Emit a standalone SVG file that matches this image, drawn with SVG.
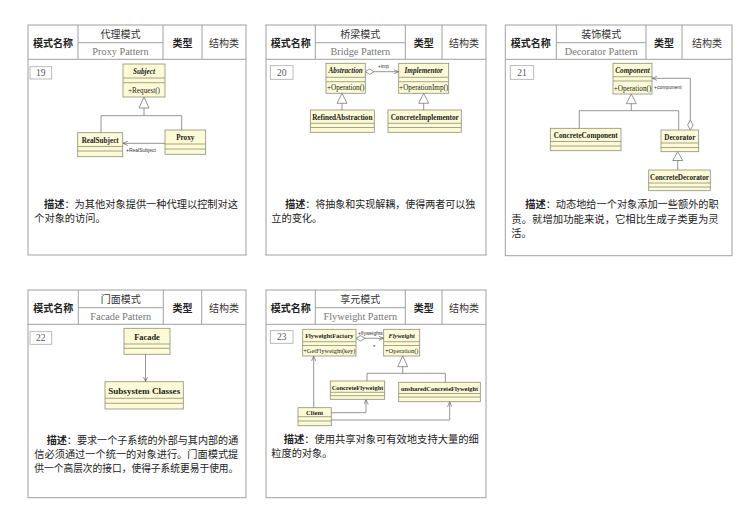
<svg xmlns="http://www.w3.org/2000/svg" width="751" height="526" viewBox="0 0 751 526">
<style>
.frame{fill:#fff;stroke:#a0a0a0;stroke-width:1}
.hl{stroke:#a0a0a0;stroke-width:1;fill:none}
.hb{font-family:"Noto Sans CJK SC","Noto Sans",sans-serif;font-size:10px;font-weight:bold;fill:#222;text-anchor:middle}
.hn{font-family:"Noto Sans CJK SC","Noto Sans",sans-serif;font-size:10px;fill:#333;text-anchor:middle}
.en{font-family:"Liberation Serif",serif;font-size:10.3px;fill:#777;text-anchor:middle}
.num{fill:#fff;stroke:#aaa;stroke-width:0.8}
.numt{font-family:"Liberation Serif",serif;font-size:9.5px;fill:#555;text-anchor:middle}
.cls{fill:#fcfbd6;stroke:#8e8e76;stroke-width:0.8}
.cl{stroke:#8e8e76;stroke-width:0.8}
.cn{font-family:"Liberation Serif",serif;font-size:7.2px;font-weight:bold;fill:#222;text-anchor:middle}
.ci{font-style:italic}
.co{font-family:"Liberation Serif",serif;font-size:7.2px;fill:#222;text-anchor:middle}
.lbl{font-family:"Liberation Sans",sans-serif;font-size:5px;fill:#333}
.desc{font-family:"Noto Sans CJK SC","Noto Sans",sans-serif;font-size:10.2px;fill:#222}
.b{font-weight:bold}
.ln{fill:none;stroke:#7a7a7a;stroke-width:0.8}
.tri{fill:#fff;stroke:#7a7a7a;stroke-width:0.8}
</style>
<defs>
<marker id="open" viewBox="0 0 8 8" refX="8" refY="4" markerWidth="5" markerHeight="5" markerUnits="userSpaceOnUse" orient="auto">
<path d="M0,0.5 L8,4 L0,7.5" fill="none" stroke="#666" stroke-width="1.1"/>
</marker>
</defs>
<rect width="751" height="526" fill="#fff"/>

<!-- Card 19 -->
<g id="card-proxy">
<rect class="frame" x="28" y="25" width="218" height="230"/>
<path class="hl" d="M28,59.3H246M78,25V59.3M163,25V59.3M202,25V59.3M78,42.7H163"/>
<text class="hb" x="53" y="46.5">模式名称</text>
<text class="hn" x="120.5" y="37.5">代理模式</text>
<text class="en" x="120.5" y="55">Proxy Pattern</text>
<text class="hb" x="182.5" y="46.5">类型</text>
<text class="hn" x="224" y="46.5">结构类</text>
<rect class="num" x="30" y="66.7" width="21.7" height="12.3"/>
<text class="numt" x="40.8" y="76">19</text>
<g id="subject"><rect class="cls" x="123" y="64" width="42" height="33"/><path class="cl" d="M123,78H165M123,82.7H165"/><text class="cn ci" x="144" y="74">Subject</text><text class="co" x="144" y="92.5">+Request()</text></g>
<g id="realsubject"><rect class="cls" x="77.7" y="132.7" width="45" height="24"/><path class="cl" d="M77.7,146.5H122.7M77.7,151H122.7"/><text class="cn" x="100.2" y="142.5">RealSubject</text></g>
<g id="proxy"><rect class="cls" x="165" y="130" width="40.7" height="24.3"/><path class="cl" d="M165,144H205.7M165,149H205.7"/><text class="cn" x="185.3" y="140">Proxy</text></g>
<text class="desc" x="44" y="207.7" textLength="194" lengthAdjust="spacingAndGlyphs"><tspan class="b">描述</tspan>：为其他对象提供一种代理以控制对这</text>
<text class="desc" x="34.3" y="222.4">个对象的访问。</text>
</g>

<!-- Card 20 -->
<g id="card-bridge">
<rect class="frame" x="266" y="25" width="220" height="230"/>
<path class="hl" d="M266,59.3H486M315.3,25V59.3M405.3,25V59.3M442,25V59.3M315.3,42.7H405.3"/>
<text class="hb" x="290.7" y="46.5">模式名称</text>
<text class="hn" x="360.3" y="37.5">桥梁模式</text>
<text class="en" x="360.3" y="55">Bridge Pattern</text>
<text class="hb" x="423.7" y="46.5">类型</text>
<text class="hn" x="464" y="46.5">结构类</text>
<rect class="num" x="270.3" y="65.7" width="22.7" height="13.6"/>
<text class="numt" x="281.7" y="75.8">20</text>
<g id="abstraction"><rect class="cls" x="326" y="63.3" width="39.3" height="30"/><path class="cl" d="M326,77.3H365.3M326,81.7H365.3"/><text class="cn ci" x="345.7" y="73.3">Abstraction</text><text class="co" x="345.7" y="90">+Operation()</text></g>
<g id="implementor"><rect class="cls" x="398.7" y="63.3" width="50" height="30"/><path class="cl" d="M398.7,77.3H448.7M398.7,81.7H448.7"/><text class="cn ci" x="423.7" y="73.3">Implementor</text><text class="co" x="423.7" y="90">+OperationImp()</text></g>
<g id="refined"><rect class="cls" x="310.3" y="110" width="64" height="22.3"/><path class="cl" d="M310.3,123.3H374.3M310.3,127.5H374.3"/><text class="cn" x="342.3" y="119.5">RefinedAbstraction</text></g>
<g id="concreteimpl"><rect class="cls" x="388" y="110" width="73.3" height="22.3"/><path class="cl" d="M388,123.3H461.3M388,127.5H461.3"/><text class="cn" x="424.7" y="119.5">ConcreteImplementor</text></g>
<text class="desc" x="285.3" y="207.7" textLength="190" lengthAdjust="spacingAndGlyphs"><tspan class="b">描述</tspan>：将抽象和实现解耦，使得两者可以独</text>
<text class="desc" x="271.3" y="222.4">立的变化。</text>
</g>

<!-- Card 21 -->
<g id="card-decorator">
<rect class="frame" x="505.3" y="25" width="226.7" height="230.7"/>
<path class="hl" d="M505.3,59.3H732M556.3,25V59.3M646,25V59.3M682,25V59.3M556.3,42.7H646"/>
<text class="hb" x="530.8" y="46.5">模式名称</text>
<text class="hn" x="601.2" y="37.5">装饰模式</text>
<text class="en" x="601.2" y="55">Decorator Pattern</text>
<text class="hb" x="664" y="46.5">类型</text>
<text class="hn" x="707" y="46.5">结构类</text>
<rect class="num" x="510.3" y="65.7" width="23.4" height="13.6"/>
<text class="numt" x="522" y="75.8">21</text>
<g id="component"><rect class="cls" x="613" y="63.3" width="39" height="30.7"/><path class="cl" d="M613,76.7H652M613,81H652"/><text class="cn ci" x="632.5" y="73">Component</text><text class="co" x="632.5" y="90.5">+Operation()</text></g>
<g id="concretecomponent"><rect class="cls" x="550.3" y="128.3" width="70.7" height="22.4"/><path class="cl" d="M550.3,141.5H621M550.3,146H621"/><text class="cn" x="585.7" y="138">ConcreteComponent</text></g>
<g id="decorator"><rect class="cls" x="661" y="130" width="37.7" height="21.7"/><path class="cl" d="M661,143H698.7M661,147.5H698.7"/><text class="cn" x="679.8" y="139.5">Decorator</text></g>
<g id="concretedecorator"><rect class="cls" x="648.7" y="170" width="61.6" height="20.7"/><path class="cl" d="M648.7,183H710.3M648.7,187H710.3"/><text class="cn" x="679.5" y="179.5">ConcreteDecorator</text></g>
<text class="desc" x="525.3" y="207.7" textLength="193.4" lengthAdjust="spacingAndGlyphs"><tspan class="b">描述</tspan>：动态地给一个对象添加一些额外的职</text>
<text class="desc" x="511.3" y="222.6" textLength="207.4" lengthAdjust="spacingAndGlyphs">责。就增加功能来说，它相比生成子类更为灵</text>
<text class="desc" x="511.3" y="237">活。</text>
</g>

<!-- Card 22 -->
<g id="card-facade">
<rect class="frame" x="28" y="290" width="218" height="207.7"/>
<path class="hl" d="M28,324.3H246M78.3,290V324.3M163.3,290V324.3M201.7,290V324.3M78.3,307.7H163.3"/>
<text class="hb" x="53.2" y="311.5">模式名称</text>
<text class="hn" x="120.8" y="302.5">门面模式</text>
<text class="en" x="120.8" y="320">Facade Pattern</text>
<text class="hb" x="182.5" y="311.5">类型</text>
<text class="hn" x="224" y="311.5">结构类</text>
<rect class="num" x="30" y="331.7" width="21.7" height="12.6"/>
<text class="numt" x="40.8" y="341.2">22</text>
<g id="facade"><rect class="cls" x="124" y="328.3" width="46" height="26"/><path class="cl" d="M124,344H170M124,348.3H170"/><text class="cn" x="147" y="339.5" style="font-size:8.4px">Facade</text></g>
<g id="subsystem"><rect class="cls" x="105" y="381.7" width="78.3" height="27.3"/><path class="cl" d="M105,398.3H183.3M105,403.3H183.3"/><text class="cn" x="144.2" y="393.5" style="font-size:9.1px">Subsystem Classes</text></g>
<text class="desc" x="46.7" y="443.7" textLength="191.6" lengthAdjust="spacingAndGlyphs"><tspan class="b">描述</tspan>：要求一个子系统的外部与其内部的通</text>
<text class="desc" x="34.3" y="457.8" textLength="204" lengthAdjust="spacingAndGlyphs">信必须通过一个统一的对象进行。门面模式提</text>
<text class="desc" x="34.3" y="472" textLength="204" lengthAdjust="spacingAndGlyphs">供一个高层次的接口，使得子系统更易于使用。</text>
</g>

<!-- Card 23 -->
<g id="card-flyweight">
<rect class="frame" x="266" y="290" width="220" height="207.7"/>
<path class="hl" d="M266,324.3H486M315.3,290V324.3M405.3,290V324.3M442,290V324.3M315.3,307.7H405.3"/>
<text class="hb" x="290.7" y="311.5">模式名称</text>
<text class="hn" x="360.3" y="302.5">享元模式</text>
<text class="en" x="360.3" y="320">Flyweight Pattern</text>
<text class="hb" x="423.7" y="311.5">类型</text>
<text class="hn" x="464" y="311.5">结构类</text>
<rect class="num" x="270.3" y="330.7" width="22.7" height="12.6"/>
<text class="numt" x="281.7" y="340.3">23</text>
<g id="flyweightfactory"><rect class="cls" x="302.7" y="329.3" width="53.3" height="26.7"/><path class="cl" d="M302.7,341.7H356M302.7,345.5H356"/><text class="cn" x="329.3" y="338" style="font-size:6.4px">FlyweightFactory</text><text class="co" x="329.3" y="353" style="font-size:6.4px">+GetFlyweight(key)</text></g>
<g id="flyweight"><rect class="cls" x="383.7" y="329.3" width="36" height="26.7"/><path class="cl" d="M383.7,341.7H419.7M383.7,345.5H419.7"/><text class="cn ci" x="401.7" y="338" style="font-size:6.4px">Flyweight</text><text class="co" x="401.7" y="353" style="font-size:6.4px">+Operation()</text></g>
<g id="concreteflyweight"><rect class="cls" x="330.3" y="381" width="54.4" height="18.3"/><path class="cl" d="M330.3,392.3H384.7M330.3,395.7H384.7"/><text class="cn" x="357.5" y="389.5" style="font-size:6.4px">ConcreteFlyweight</text></g>
<g id="unshared"><rect class="cls" x="398.7" y="382.3" width="81.6" height="19.4"/><path class="cl" d="M398.7,393.5H480.3M398.7,397H480.3"/><text class="cn" x="439.5" y="390.8" style="font-size:6.4px">unsharedConcreteFlyweight</text></g>
<g id="client"><rect class="cls" x="298" y="407.7" width="33.3" height="18"/><path class="cl" d="M298,416.7H331.3M298,421H331.3"/><text class="cn" x="314.7" y="414.8" style="font-size:6.6px">Client</text></g>
<text class="desc" x="283.7" y="443" textLength="195" lengthAdjust="spacingAndGlyphs"><tspan class="b">描述</tspan>：使用共享对象可有效地支持大量的细</text>
<text class="desc" x="271.3" y="457.2">粒度的对象。</text>
</g>

<g id="connectors">
<!-- proxy -->
<polygon class="tri" points="144,97 139,108 149,108"/>
<path class="ln" d="M144,108V115.7M101,115.7H181.7M101,115.7V132.7M181.7,115.7V130"/>
<path class="ln" d="M165,143.3H122.9" marker-end="url(#open)"/>
<text class="lbl" x="126" y="152">+RealSubject</text>
<!-- bridge -->
<polygon class="tri" points="365.3,71.7 369.7,69 374,71.7 369.7,74.4"/>
<path class="ln" d="M374,71.7H398.5" marker-end="url(#open)"/>
<text class="lbl" x="378" y="68">+imp</text>
<polygon class="tri" points="342,93.3 337,103.3 347,103.3"/>
<path class="ln" d="M342,103.3V110"/>
<polygon class="tri" points="423.7,93.3 418.7,103.3 428.7,103.3"/>
<path class="ln" d="M423.7,103.3V110"/>
<!-- decorator -->
<polygon class="tri" points="631.3,94 626.3,103.7 636.3,103.7"/>
<path class="ln" d="M631.3,103.7V110.7M579.3,110.7H678.7M579.3,110.7V128.3M678.7,110.7V130"/>
<polygon class="tri" points="690.3,130 687.6,125 690.3,120 693,125"/>
<path class="ln" d="M690.3,120V78.3H652.2" marker-end="url(#open)"/>
<text class="lbl" x="654" y="88.5">+component</text>
<polygon class="tri" points="677.7,151.7 672.7,160.5 682.7,160.5"/>
<path class="ln" d="M677.7,160.5V170"/>
<!-- facade -->
<path class="ln" d="M145.5,354.3V381.5" marker-end="url(#open)"/>
<!-- flyweight -->
<polygon class="tri" points="356,338.3 360.5,335.6 365,338.3 360.5,341"/>
<path class="ln" d="M365,338.3H383.5" marker-end="url(#open)"/>
<text class="lbl" x="358" y="335">+flyweights</text>
<text class="lbl" x="373" y="349" style="font-size:6px">*</text>
<polygon class="tri" points="402.7,356 397.7,366.7 407.7,366.7"/>
<path class="ln" d="M402.7,366.7V373.3M367,373.3H445.3M367,373.3V381M445.3,373.3V382.3"/>
<path class="ln" d="M313.7,407.7V356.2" marker-end="url(#open)"/>
<path class="ln" d="M331.3,412.7H366V399.5" marker-end="url(#open)"/>
<path class="ln" d="M331.3,420H449.7V401.9" marker-end="url(#open)"/>
</g>
</svg>
